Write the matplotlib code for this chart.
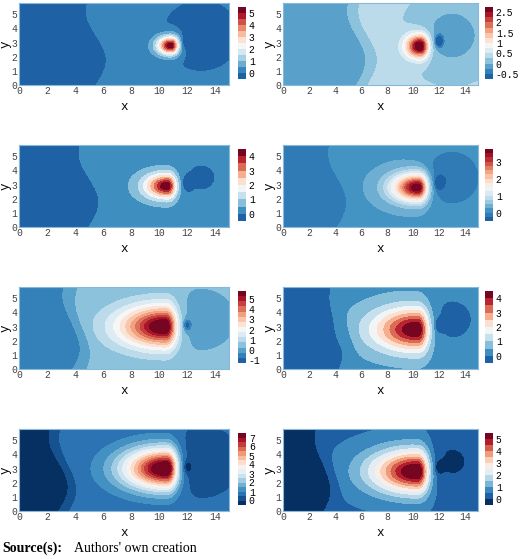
import numpy as np
import matplotlib
matplotlib.use("Agg")
import matplotlib.pyplot as plt
from matplotlib.colors import ListedColormap

# per-panel field parameters
peak_amp   = [5.6, 2.9, 4.4, 3.8, 6.0, 4.5, 7.8, 5.6]
peak_x     = [10.85, 10.55, 10.6, 10.4, 10.45, 10.35, 10.55, 10.35]
peak_y     = [2.8, 2.75, 2.9, 2.8, 3.0, 2.8, 3.0, 2.8]
peak_sl    = [0.6, 0.65, 1.0, 1.2, 2.0, 2.1, 1.9, 2.2]   # spread to the left
peak_sr    = [0.35, 0.4, 0.4, 0.45, 0.5, 0.55, 0.5, 0.55]  # spread to the right
peak_sy    = [0.4, 0.5, 0.55, 0.6, 0.9, 0.95, 0.9, 0.95]
dip_amp    = [1.2, 1.2, 1.0, 1.0, 1.4, 1.0, 0.9, 1.0]
blob_amp   = [0.45, 0.45, 0.3, 0.45, 0.3, 0.45, 0.5, 0.5]
blob_size  = [1.6, 1.2, 1.0, 1.0, 0.8, 1.0, 1.0, 0.9]
bg_left    = [-0.25, -0.2, -0.25, -0.15, -0.6, -0.2, -0.7, -0.4]
bg_right   = [0.25, 0.3, 0.25, 0.2, 0.3, 0.3, 0.6, 0.4]
bg_mid     = [5.5, 5.8, 5.0, 4.3, 4.0, 4.5, 2.8, 3.2]
lev_lo     = [-0.5, -0.75, -0.5, -0.5, -1.25, -0.5, -0.5, -0.5]
lev_hi     = [5.5, 2.75, 4.5, 3.75, 5.75, 4.5, 7.5, 5.5]
lev_step   = [0.5, 0.25, 0.5, 0.25, 0.5, 0.5, 0.5, 0.5]
cmap_start = [0.09, 0.09, 0.09, 0.09, 0.09, 0.09, 0.0, 0.0]
cbar_ticks = [[0,1,2,3,4,5], [-0.5,0,0.5,1,1.5,2,2.5], [0,1,2,3,4], [0,1,2,3],
              [-1,0,1,2,3,4,5], [0,1,2,3,4], [0,1,2,3,4,5,6,7], [0,1,2,3,4,5]]
x_ticks = [0, 2, 4, 6, 8, 10, 12, 14]
y_ticks = [0, 1, 2, 3, 4, 5]

plt.rcParams['font.family'] = ['Liberation Mono', 'DejaVu Sans Mono']
plt.rcParams['axes.unicode_minus'] = False
fig = plt.figure(figsize=(5.2, 5.59), dpi=100)
W, H = 520, 559
base = plt.get_cmap('RdBu_r')

x = np.linspace(0, 15, 400)
y = np.linspace(0, 5.8, 160)
X, Y = np.meshgrid(x, y)

row_tops = [3, 145, 287, 429]
col_left = [19, 283]
col_w = [210, 195]
col_cb = [238, 485]
ah = 82

for i in range(8):
    r, c = divmod(i, 2)
    top = row_tops[r]
    ax = fig.add_axes([col_left[c]/W, 1-(top+ah)/H, col_w[c]/W, ah/H])
    xm = bg_mid[i] + 0.7*np.sin(Y*0.9)
    bg = bg_left[i] + (bg_right[i]-bg_left[i])/(1+np.exp(-(X-xm)*3))
    dx = X - peak_x[i]
    sx = np.where(dx < 0, peak_sl[i], peak_sr[i])
    rr = np.sqrt((dx/sx)**2 + ((Y-peak_y[i])/peak_sy[i])**2)
    Z = bg + peak_amp[i]*np.exp(-rr**1.7/2)
    Z -= dip_amp[i]*np.exp(-0.5*(((X-12)/0.22)**2 + ((Y-3.1)/0.3)**2))
    bs = blob_size[i]
    Z -= blob_amp[i]*np.exp(-0.5*(((X-13)/(0.9*bs))**2 + ((Y-3.5)/(0.8*bs))**2))**0.3
    levels = np.arange(lev_lo[i], lev_hi[i]+1e-9, lev_step[i])
    n = len(levels) - 1
    cmap = ListedColormap(base(np.linspace(cmap_start[i], 0.98, n)))
    Z = np.clip(Z, levels[0]+1e-6, levels[-1]-1e-6)
    cs = ax.contourf(X, Y, Z, levels=levels, cmap=cmap)
    ax.set_xlim(0, 15); ax.set_ylim(0, 5.8)
    ax.set_xticks(x_ticks); ax.set_yticks(y_ticks)
    ax.tick_params(labelsize=7, length=0, pad=1, colors='#444444')
    for s in ax.spines.values():
        s.set_color('#8ab8d8')
    ax.set_xlabel('x', fontsize=9, labelpad=3)
    ax.set_ylabel('y', fontsize=9, labelpad=0)
    cax = fig.add_axes([col_cb[c]/W, 1-(top+76)/H, 8/W, 72/H])
    cb = fig.colorbar(cs, cax=cax, ticks=cbar_ticks[i])
    cb.ax.set_yticklabels(['%g' % t for t in cbar_ticks[i]])
    cb.outline.set_visible(False)
    cb.ax.tick_params(labelsize=7, length=0, pad=2)

fig.text(2/W, 1-552/H, 'Source(s):', fontsize=10, fontweight='bold', family='Liberation Serif')
fig.text(74/W, 1-552/H, "Authors' own creation", fontsize=10, family='Liberation Serif')
fig.savefig('out.png', dpi=100)
